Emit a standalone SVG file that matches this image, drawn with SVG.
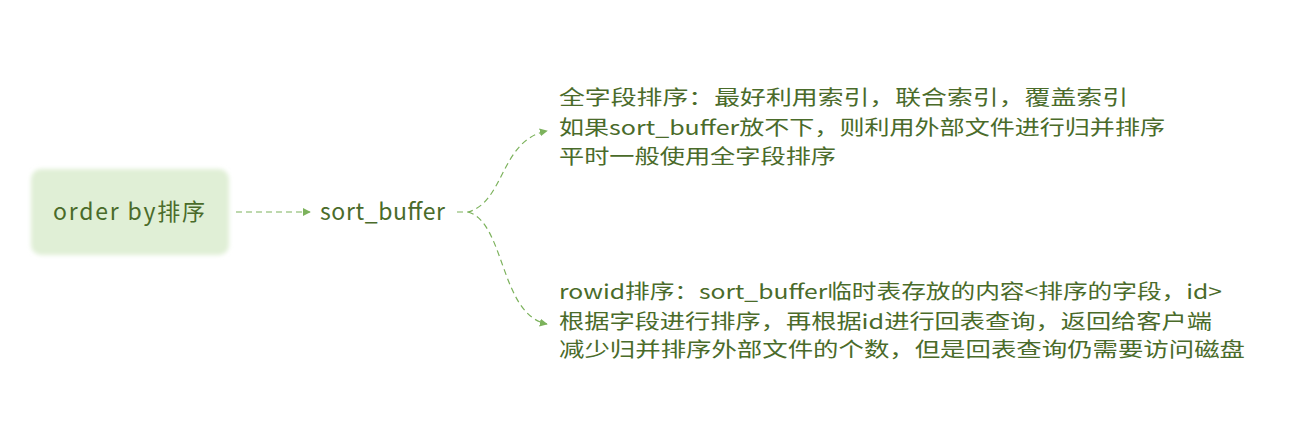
<svg xmlns="http://www.w3.org/2000/svg" width="1298" height="446" viewBox="0 0 1298 446">
<style>
.t{font-family:"Noto Sans CJK SC","Noto Sans",sans-serif;font-size:23px;fill:#4a6b2a}
.m{font-family:"Noto Sans CJK SC","Noto Sans",sans-serif;font-size:20px;fill:#4a6b2a}
.c{fill:none;stroke:#7cb25c;stroke-width:1.2;stroke-dasharray:6 4}
</style>
<defs>
<marker id="ah" viewBox="0 0 10 10" refX="9" refY="5" markerWidth="8" markerHeight="8" markerUnits="userSpaceOnUse" orient="auto">
<path d="M0,0 L10,5 L0,10 z" fill="#7cb25c"/>
</marker>
<filter id="soft" x="-10%" y="-10%" width="120%" height="120%">
<feGaussianBlur stdDeviation="2"/>
</filter>
</defs>
<rect width="1298" height="446" fill="#ffffff"/>
<g id="connectors">
<path class="c" d="M236,212 L310,212" marker-end="url(#ah)"/>
<path class="c" d="M457,212 L468,212 C505,202 500,140 547,131" marker-end="url(#ah)"/>
<path class="c" d="M468,212 C505,222 500,315 547,324" marker-end="url(#ah)"/>
</g>
<g id="node-orderby">
<rect x="31" y="169" width="198" height="86" rx="10" fill="#e0efd6" filter="url(#soft)"/>
<text class="t" x="53" y="220" textLength="152" lengthAdjust="spacing">order by排序</text>
</g>
<g id="node-sortbuffer">
<text class="t" x="320" y="220" textLength="125" lengthAdjust="spacing">sort_buffer</text>
</g>
<g id="node-full">
<text class="m" x="559" y="105" textLength="569" lengthAdjust="spacingAndGlyphs">全字段排序：最好利用索引，联合索引，覆盖索引</text>
<text class="m" x="559" y="135" textLength="606" lengthAdjust="spacingAndGlyphs">如果sort_buffer放不下，则利用外部文件进行归并排序</text>
<text class="m" x="559" y="164" textLength="277" lengthAdjust="spacingAndGlyphs">平时一般使用全字段排序</text>
</g>
<g id="node-rowid">
<text class="m" x="559" y="299" textLength="663" lengthAdjust="spacingAndGlyphs">rowid排序：sort_buffer临时表存放的内容&lt;排序的字段，id&gt;</text>
<text class="m" x="559" y="329" textLength="653" lengthAdjust="spacingAndGlyphs">根据字段进行排序，再根据id进行回表查询，返回给客户端</text>
<text class="m" x="559" y="357" textLength="686" lengthAdjust="spacingAndGlyphs">减少归并排序外部文件的个数，但是回表查询仍需要访问磁盘</text>
</g>
</svg>
